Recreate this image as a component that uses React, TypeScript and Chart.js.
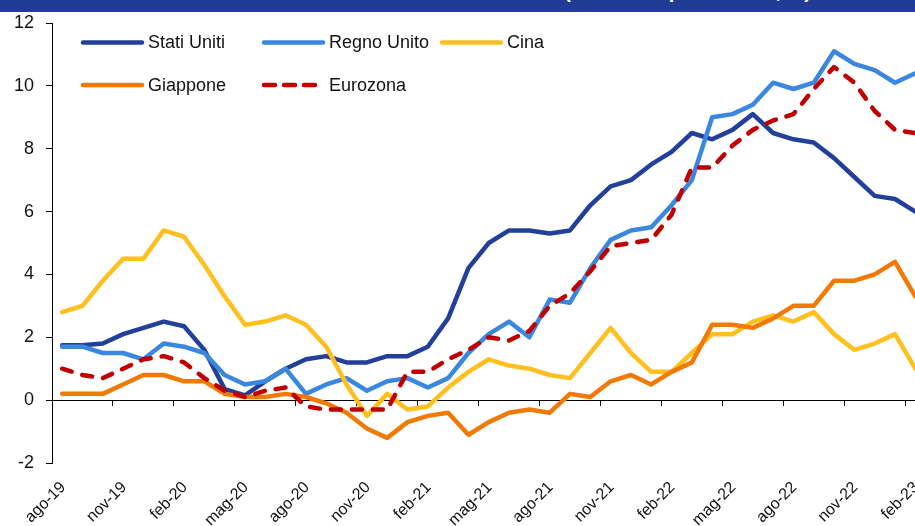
import React, { useEffect, useRef } from 'react';
import { Chart, registerables } from 'chart.js';

Chart.register(...registerables);

const categories = [
  'ago-19', 'set-19', 'ott-19', 'nov-19', 'dic-19', 'gen-20', 'feb-20', 'mar-20', 'apr-20', 'mag-20',
  'giu-20', 'lug-20', 'ago-20', 'set-20', 'ott-20', 'nov-20', 'dic-20', 'gen-21', 'feb-21', 'mar-21',
  'apr-21', 'mag-21', 'giu-21', 'lug-21', 'ago-21', 'set-21', 'ott-21', 'nov-21', 'dic-21', 'gen-22',
  'feb-22', 'mar-22', 'apr-22', 'mag-22', 'giu-22', 'lug-22', 'ago-22', 'set-22', 'ott-22', 'nov-22',
  'dic-22', 'gen-23', 'feb-23',
];

const statiUniti = [
  1.75, 1.75, 1.8, 2.1, 2.3, 2.5, 2.35, 1.6, 0.35, 0.15,
  0.6, 1.0, 1.3, 1.4, 1.2, 1.2, 1.4, 1.4, 1.7, 2.6,
  4.2, 5.0, 5.4, 5.4, 5.3, 5.4, 6.2, 6.8, 7.0, 7.5,
  7.9, 8.5, 8.3, 8.6, 9.1, 8.5, 8.3, 8.2, 7.7, 7.1,
  6.5, 6.4, 6.0,
];

const regnoUnito = [
  1.7, 1.7, 1.5, 1.5, 1.3, 1.8, 1.7, 1.5, 0.8, 0.5,
  0.6, 1.0, 0.2, 0.5, 0.7, 0.3, 0.6, 0.7, 0.4, 0.7,
  1.5, 2.1, 2.5, 2.0, 3.2, 3.1, 4.2, 5.1, 5.4, 5.5,
  6.2, 7.0, 9.0, 9.1, 9.4, 10.1, 9.9, 10.1, 11.1, 10.7,
  10.5, 10.1, 10.4,
];

const cina = [
  2.8, 3.0, 3.8, 4.5, 4.5, 5.4, 5.2, 4.3, 3.3, 2.4,
  2.5, 2.7, 2.4, 1.7, 0.5, -0.5, 0.2, -0.3, -0.2, 0.4,
  0.9, 1.3, 1.1, 1.0, 0.8, 0.7, 1.5, 2.3, 1.5, 0.9,
  0.9, 1.5, 2.1, 2.1, 2.5, 2.7, 2.5, 2.8, 2.1, 1.6,
  1.8, 2.1, 1.0,
];

const giappone = [
  0.2, 0.2, 0.2, 0.5, 0.8, 0.8, 0.6, 0.6, 0.2, 0.1,
  0.1, 0.2, 0.1, -0.1, -0.4, -0.9, -1.2, -0.7, -0.5, -0.4,
  -1.1, -0.7, -0.4, -0.3, -0.4, 0.2, 0.1, 0.6, 0.8, 0.5,
  0.9, 1.2, 2.4, 2.4, 2.3, 2.6, 3.0, 3.0, 3.8, 3.8,
  4.0, 4.4, 3.3,
];

const eurozona = [
  1.0, 0.8, 0.7, 1.0, 1.3, 1.4, 1.2, 0.7, 0.3, 0.1,
  0.3, 0.4, -0.2, -0.3, -0.3, -0.3, -0.3, 0.9, 0.9, 1.3,
  1.6, 2.0, 1.9, 2.2, 3.0, 3.4, 4.1, 4.9, 5.0, 5.1,
  5.9, 7.4, 7.4, 8.1, 8.6, 8.9, 9.1, 9.9, 10.6, 10.1,
  9.2, 8.6, 8.5,
];

const yMin = -2;
const yMax = 12;
const yStep = 2;

const FONT = '"Liberation Sans", Arial, sans-serif';

const gridLegend = {
  id: 'gridLegend',
  afterDraw(chart: any) {
    const { ctx, chartArea } = chart;
    const colX = [29, 210, 388];
    const rowY = [19.5, 62];
    chart.data.datasets.forEach((ds: any, i: number) => {
      const col = i < 3 ? i : i - 3;
      const row = i < 3 ? 0 : 1;
      const x = chartArea.left + colX[col];
      const y = chartArea.top + rowY[row];
      ctx.save();
      ctx.strokeStyle = ds.borderColor;
      ctx.lineWidth = ds.borderWidth;
      ctx.lineCap = 'round';
      ctx.setLineDash(ds.borderDash ? [11, 9] : []);
      ctx.beginPath();
      ctx.moveTo(x + 2, y);
      ctx.lineTo(x + 61, y);
      ctx.stroke();
      ctx.setLineDash([]);
      ctx.fillStyle = '#111';
      ctx.font = '18px ' + FONT;
      ctx.textBaseline = 'middle';
      ctx.textAlign = 'left';
      ctx.fillText(ds.label, x + 67, y + 1);
      ctx.restore();
    });
  },
};

export default function App() {
  const canvasRef = useRef<HTMLCanvasElement | null>(null);

  useEffect(() => {
    if (!canvasRef.current) return;
    const common = {
      fill: false,
      borderWidth: 4.5,
      pointRadius: 0,
      tension: 0,
      borderJoinStyle: 'round',
      borderCapStyle: 'round',
      xAxisID: 'x',
      yAxisID: 'y',
    };
    const chart = new Chart(canvasRef.current, {
      type: 'line',
      data: {
        labels: categories,
        datasets: [
          { ...common, label: 'Stati Uniti', data: statiUniti, borderColor: '#22409A', backgroundColor: '#22409A', order: 5 },
          { ...common, label: 'Regno Unito', data: regnoUnito, borderColor: '#3A87DF', backgroundColor: '#3A87DF', order: 4 },
          { ...common, label: 'Cina', data: cina, borderColor: '#FFC01F', backgroundColor: '#FFC01F', order: 3 },
          { ...common, label: 'Giappone', data: giappone, borderColor: '#F07A05', backgroundColor: '#F07A05', order: 2 },
          { ...common, label: 'Eurozona', data: eurozona, borderColor: '#C00000', backgroundColor: '#C00000', borderDash: [10, 11], order: 1 },
        ] as any,
      },
      options: {
        animation: false,
        responsive: false,
        maintainAspectRatio: false,
        layout: { padding: { left: 0, right: 10, top: 23, bottom: 0 } },
        plugins: { legend: { display: false }, tooltip: { enabled: false }, title: { display: false } },
        scales: {
          x: {
            type: 'category',
            position: 'bottom',
            offset: true,
            grid: { display: false, drawTicks: false },
            border: { display: false },
            ticks: {
              autoSkip: false,
              minRotation: 45,
              maxRotation: 45,
              padding: 15,
              labelOffset: 1,
              color: '#111',
              font: { family: FONT, size: 16 },
              callback: function (this: any, value: any, index: number) {
                return index % 3 === 0 ? this.getLabelForValue(value) : '';
              },
            },
            afterFit: (s: any) => { s.height = 63; },
          },
          x0: {
            type: 'category',
            axis: 'x',
            labels: categories,
            position: { y: 0 },
            offset: true,
            grid: {
              offset: true,
              drawOnChartArea: false,
              drawTicks: true,
              tickLength: 5,
              lineWidth: 1,
              color: (ctx: any) => (ctx.index % 3 === 0 ? '#000' : 'rgba(0,0,0,0)'),
            },
            border: { display: true, color: '#000', width: 1 },
            ticks: { display: false, autoSkip: false },
          },
          y: {
            type: 'linear',
            position: 'left',
            min: yMin,
            max: yMax,
            ticks: {
              stepSize: yStep,
              padding: 12,
              color: '#111',
              font: { family: FONT, size: 18 },
            },
            grid: { drawOnChartArea: false, drawTicks: true, tickLength: 6, color: '#000', lineWidth: 1 },
            border: { display: true, color: '#000', width: 1 },
            afterFit: (s: any) => { s.width = 52; },
          },
        } as any,
      },
      plugins: [gridLegend],
    } as any);
    return () => chart.destroy();
  }, []);

  return (
    <div style={{ position: 'fixed', left: 0, top: 0, width: 915, height: 526, overflow: 'hidden', background: '#fff' }}>
      <canvas ref={canvasRef} width={944} height={526} style={{ position: 'absolute', left: 0, top: 0, width: 944, height: 526 }} />
      <div style={{ position: 'absolute', left: 0, top: 0, width: 915, height: 12, background: '#203C94', overflow: 'hidden' }}>
        <span style={{ position: 'absolute', right: 104, top: -20, color: '#fff', fontFamily: FONT, fontWeight: 'bold', fontSize: 20, lineHeight: '22px', whiteSpace: 'nowrap' }}>
          Inflazione al consumo (variazioni percentuali, %)
        </span>
      </div>
    </div>
  );
}
